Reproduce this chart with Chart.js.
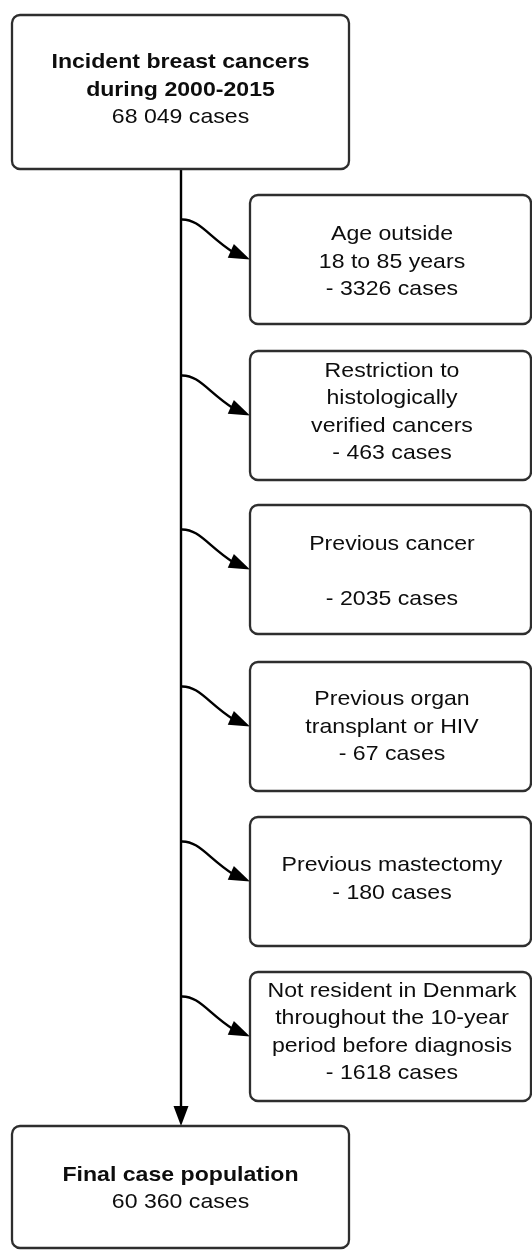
<!DOCTYPE html>
<html><head><meta charset="utf-8">
<script src="https://cdn.jsdelivr.net/npm/chart.js@4.4.0/dist/chart.umd.min.js"></script>
<style>html,body{margin:0;padding:0;background:#fff;}canvas{display:block;}</style>
</head><body>
<canvas id="c" width="532" height="1251"></canvas>
<script>
// ---- data ----
const startTitle = ["Incident breast cancers", "during 2000-2015"];
const startCases = 68049;
const exclusionReasons = [
  ["Age outside", "18 to 85 years"],
  ["Restriction to", "histologically", "verified cancers"],
  ["Previous cancer", ""],
  ["Previous organ", "transplant or HIV"],
  ["Previous mastectomy"],
  ["Not resident in Denmark", "throughout the 10-year", "period before diagnosis"]
];
const exclusionCases = [3326, 463, 2035, 67, 180, 1618];
const finalTitle = ["Final case population"];
const finalCases = 60360;

// ---- layout (diagram units) ----
const flowX = 181;
const mainBoxX = [12, 349];
const startBoxY = [15, 169];
const startTextY = 88;
const finalBoxY = [1126, 1248];
const finalTextY = 1187;
const exclBoxX = [250, 531];
const exclTextX = 392;
const exclBoxTop = [195, 351, 505, 662, 817, 972];
const exclBoxH = 129;
const exclTextY = [260, 410.5, 570, 725, 877.5, 1030.5];
const lineGap = 27.6;
const fontPx = 21;
const fontScaleX = 1.1;

function fmtCases(n) {
  const s = String(n);
  return (n >= 10000 ? s.replace(/\B(?=(\d{3})+(?!\d))/g, " ") : s) + " cases";
}

function roundRect(ctx, x0, y0, x1, y1, r) {
  ctx.beginPath();
  ctx.moveTo(x0 + r, y0);
  ctx.arcTo(x1, y0, x1, y1, r);
  ctx.arcTo(x1, y1, x0, y1, r);
  ctx.arcTo(x0, y1, x0, y0, r);
  ctx.arcTo(x0, y0, x1, y0, r);
  ctx.closePath();
}

const flowPlugin = {
  id: 'flow',
  afterDraw(chart) {
    const ctx = chart.ctx;
    const X = v => chart.scales.x.getPixelForValue(v);
    const Y = v => chart.scales.y.getPixelForValue(v);

    function box(x0, x1, y0, y1) {
      ctx.save();
      roundRect(ctx, X(x0), Y(y0), X(x1), Y(y1), 8);
      ctx.fillStyle = '#fff';
      ctx.fill();
      ctx.lineWidth = 2.3;
      ctx.strokeStyle = '#2e2e2e';
      ctx.stroke();
      ctx.restore();
    }
    function text(lines, cx, cy, boldCount) {
      ctx.save();
      ctx.fillStyle = '#0d0d0d';
      ctx.textAlign = 'center';
      ctx.textBaseline = 'alphabetic';
      const n = lines.length;
      lines.forEach((ln, i) => {
        const capMid = cy + (i - (n - 1) / 2) * lineGap;
        ctx.font = (i < boldCount ? 'bold ' : '') + fontPx + 'px "Liberation Sans", Arial, sans-serif';
        ctx.save();
        ctx.translate(X(cx), Y(capMid) + 0.358 * fontPx);
        ctx.scale(fontScaleX, 1);
        ctx.fillText(ln, 0, 0);
        ctx.restore();
      });
      ctx.restore();
    }
    function head(tx, ty, ang, len, hw) {
      const dx = Math.cos(ang), dy = Math.sin(ang);
      const bx = tx - len * dx, by = ty - len * dy;
      ctx.beginPath();
      ctx.moveTo(tx, ty);
      ctx.lineTo(bx - hw * dy, by + hw * dx);
      ctx.lineTo(bx + hw * dy, by - hw * dx);
      ctx.closePath();
      ctx.fill();
    }

    ctx.save();
    ctx.strokeStyle = '#000';
    ctx.fillStyle = '#000';
    ctx.lineWidth = 2.4;
    // main vertical flow
    ctx.beginPath();
    ctx.moveTo(X(flowX), Y(startBoxY[1]));
    ctx.lineTo(X(flowX), Y(finalBoxY[0]) - 18);
    ctx.stroke();
    head(X(flowX), Y(finalBoxY[0]), Math.PI / 2, 20, 7.5);

    // branch arrows
    exclBoxTop.forEach((top) => {
      const cy = Y(top + exclBoxH / 2);
      const tipX = X(exclBoxX[0]);
      const ang = 24 * Math.PI / 180;
      const len = 21;
      const bx = tipX - len * Math.cos(ang), by = cy - len * Math.sin(ang);
      ctx.beginPath();
      ctx.moveTo(X(flowX), cy - 40);
      ctx.bezierCurveTo(X(flowX) + 18, cy - 41, bx - 22, by - 14, bx + 2, by + 1);
      ctx.stroke();
      head(tipX, cy, ang, len, 7.5);
    });
    ctx.restore();

    // boxes
    box(mainBoxX[0], mainBoxX[1], startBoxY[0], startBoxY[1]);
    text(startTitle.concat([fmtCases(startCases)]), (mainBoxX[0] + mainBoxX[1]) / 2, startTextY, startTitle.length);

    exclusionReasons.forEach((reason, i) => {
      box(exclBoxX[0], exclBoxX[1], exclBoxTop[i], exclBoxTop[i] + exclBoxH);
      text(reason.concat(["- " + fmtCases(exclusionCases[i])]), exclTextX, exclTextY[i], 0);
    });

    box(mainBoxX[0], mainBoxX[1], finalBoxY[0], finalBoxY[1]);
    text(finalTitle.concat([fmtCases(finalCases)]), (mainBoxX[0] + mainBoxX[1]) / 2, finalTextY, finalTitle.length);
  }
};

new Chart(document.getElementById('c'), {
  type: 'scatter',
  data: { datasets: [{ data: [], pointRadius: 0 }] },
  options: {
    responsive: false,
    devicePixelRatio: 1,
    animation: false,
    events: [],
    layout: { padding: 0 },
    plugins: { legend: { display: false }, tooltip: { enabled: false } },
    scales: {
      x: { type: 'linear', min: 0, max: 532, display: false },
      y: { type: 'linear', min: 0, max: 1251, reverse: true, display: false }
    }
  },
  plugins: [flowPlugin]
});
</script>
</body></html>
